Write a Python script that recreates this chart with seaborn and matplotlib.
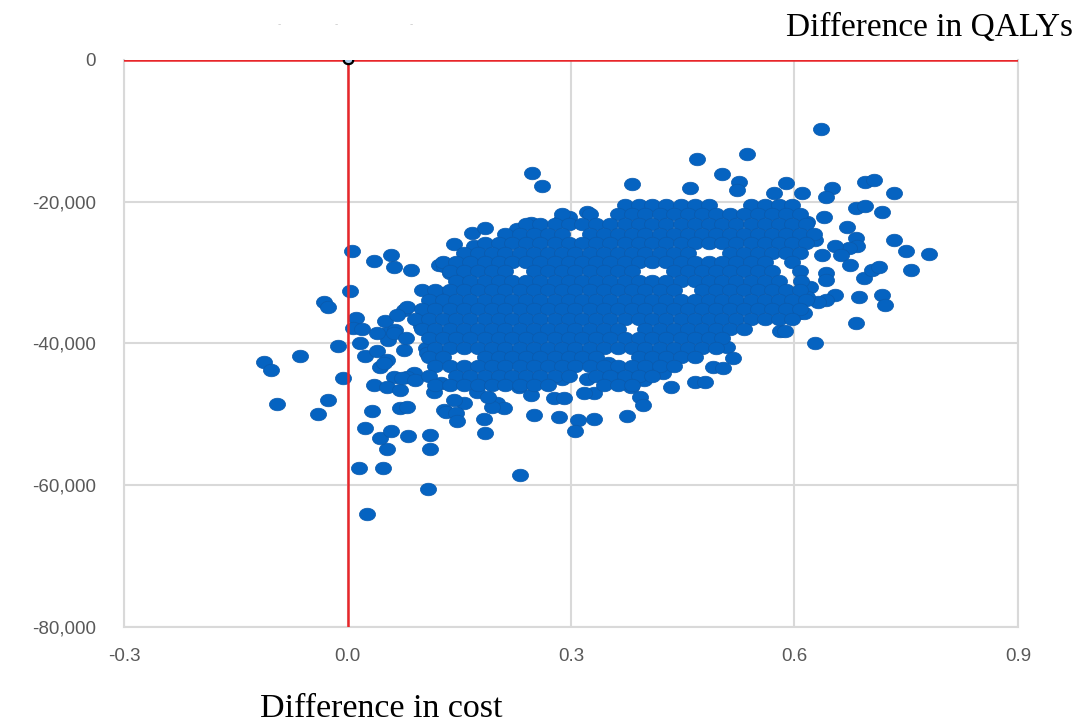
import pandas as pd
import matplotlib
matplotlib.use("Agg")
import matplotlib.pyplot as plt
import seaborn as sns
from matplotlib.markers import MarkerStyle
from matplotlib.transforms import Affine2D
from matplotlib.ticker import FuncFormatter

# x = difference in QALYs, y = difference in cost (in thousands)

# scattered points above the main cloud
upper_pts = [
    (0.635, -9.7), (0.536, -13.2), (0.469, -14.0), (0.503, -16.1), (0.525, -17.2),
    (0.523, -18.4), (0.460, -18.0), (0.382, -17.5), (0.247, -16.0), (0.261, -17.8),
    (0.322, -21.5), (0.297, -22.1), (0.286, -22.6), (0.227, -23.9), (0.246, -23.0),
    (0.255, -24.0), (0.572, -18.8), (0.588, -17.4), (0.610, -18.7), (0.651, -18.1),
    (0.642, -19.3), (0.695, -17.2), (0.707, -16.9), (0.733, -18.8), (0.682, -20.9),
    (0.695, -20.6), (0.718, -21.4), (0.639, -22.1), (0.617, -22.8), (0.671, -23.5),
]

# right-hand fringe
right_pts = [
    (0.733, -25.4), (0.682, -25.1), (0.684, -26.3), (0.673, -26.6), (0.655, -26.3),
    (0.662, -27.5), (0.637, -27.5), (0.628, -25.4), (0.675, -28.9), (0.642, -30.1),
    (0.642, -31.0), (0.693, -30.8), (0.704, -29.6), (0.713, -29.2), (0.750, -26.9),
    (0.781, -27.4), (0.757, -29.7), (0.686, -33.4), (0.718, -33.1), (0.722, -34.6),
    (0.655, -33.1), (0.642, -33.9), (0.632, -34.1), (0.621, -32.0), (0.617, -33.4),
    (0.606, -35.7), (0.613, -35.7), (0.682, -37.1), (0.628, -39.9), (0.581, -38.3),
    (0.587, -38.3), (0.510, -40.5), (0.518, -42.0), (0.491, -43.3),
]

# lower edge of the cloud
lower_pts = [
    (0.466, -45.4), (0.480, -45.4), (0.504, -43.5), (0.434, -46.1), (0.424, -44.2),
    (0.407, -43.7), (0.398, -45.1), (0.385, -44.4), (0.352, -44.4), (0.349, -42.8),
    (0.362, -44.2), (0.371, -45.6), (0.380, -46.1), (0.393, -47.5), (0.396, -48.7),
    (0.375, -50.2), (0.331, -50.7), (0.310, -50.8), (0.306, -52.4), (0.284, -50.4),
    (0.250, -50.1), (0.288, -45.0), (0.277, -47.7), (0.290, -47.7), (0.322, -45.0),
    (0.331, -47.0), (0.317, -47.0), (0.230, -46.1), (0.246, -47.2), (0.201, -48.4),
    (0.210, -49.1), (0.194, -48.9), (0.174, -46.8), (0.188, -47.5), (0.183, -50.7),
    (0.185, -52.6), (0.156, -48.4), (0.143, -48.0), (0.129, -49.4), (0.132, -49.6),
    (0.145, -49.8), (0.147, -51.0), (0.116, -46.8), (0.125, -45.6), (0.232, -58.6),
    (0.108, -60.6),
]

# left-hand fringe, around the zero line
left_pts = [
    (0.006, -27.0), (0.035, -28.3), (0.058, -27.5), (0.062, -29.2), (0.085, -29.6),
    (0.004, -32.6), (-0.032, -34.1), (-0.026, -34.9), (0.011, -36.4), (0.008, -37.8),
    (0.020, -38.0), (-0.013, -40.3), (0.017, -40.0), (-0.112, -42.6), (-0.103, -43.7),
    (-0.064, -41.8), (-0.006, -44.9), (-0.094, -48.6), (-0.026, -48.0), (-0.040, -49.9),
    (0.033, -49.5), (0.070, -49.1), (0.080, -48.9), (0.050, -36.9), (0.053, -38.5),
    (0.064, -38.1), (0.076, -35.3), (0.080, -34.9), (0.094, -36.7), (0.098, -37.6),
    (0.111, -32.9), (0.120, -34.3), (0.130, -32.9), (0.066, -36.0), (0.103, -37.9),
    (0.054, -39.5), (0.123, -28.9), (0.138, -30.1), (0.149, -31.0), (0.130, -29.1),
    (0.143, -25.9), (0.167, -24.4), (0.185, -23.7), (0.170, -26.3), (0.205, -26.8),
    (0.183, -28.2), (0.024, -41.8), (0.040, -41.1), (0.053, -42.3), (0.044, -43.3),
    (0.049, -42.8), (0.062, -44.7), (0.035, -45.8), (0.053, -46.1), (0.071, -46.5),
    (0.089, -44.2), (0.080, -44.7), (0.073, -44.9), (0.091, -45.1), (0.076, -40.9),
    (0.105, -40.7), (0.107, -41.4), (0.040, -38.5), (0.062, -38.5),
]

# low tail
tail_pts = [
    (0.026, -64.0), (0.016, -57.6), (0.047, -57.6), (0.111, -54.9), (0.111, -52.9),
    (0.053, -54.9), (0.044, -53.4), (0.058, -52.4), (0.081, -53.0), (0.024, -51.9),
]

# dense core, row by row: (cost in thousands, [QALY differences])
core_top = [
    (-20.5, [0.372, 0.391, 0.409, 0.428, 0.447, 0.466, 0.485, 0.541, 0.560, 0.579, 0.597]),
    (-21.8, [0.288, 0.325, 0.363, 0.382, 0.400, 0.419, 0.438, 0.457, 0.476, 0.494, 0.513,
             0.532, 0.551, 0.570, 0.588, 0.607]),
    (-23.1, [0.240, 0.259, 0.278, 0.297, 0.315, 0.334, 0.353, 0.372, 0.391, 0.409, 0.428,
             0.447, 0.466, 0.485, 0.503, 0.522, 0.541, 0.560, 0.579, 0.597, 0.616]),
    (-24.5, [0.212, 0.231, 0.250, 0.269, 0.288, 0.325, 0.344, 0.363, 0.382, 0.400, 0.419,
             0.438, 0.457, 0.476, 0.494, 0.513, 0.532, 0.551, 0.570, 0.588, 0.607, 0.626]),
    (-25.8, [0.184, 0.203, 0.221, 0.240, 0.259, 0.278, 0.297, 0.315, 0.334, 0.353, 0.372,
             0.391, 0.409, 0.428, 0.447, 0.466, 0.485, 0.503, 0.522, 0.541, 0.560, 0.579,
             0.597, 0.616]),
    (-27.2, [0.156, 0.175, 0.194, 0.212, 0.231, 0.250, 0.269, 0.288, 0.306, 0.325, 0.344,
             0.363, 0.382, 0.400, 0.419, 0.438, 0.457, 0.513, 0.532, 0.551, 0.570, 0.588,
             0.607]),
    (-28.5, [0.128, 0.146, 0.165, 0.184, 0.203, 0.221, 0.240, 0.259, 0.278, 0.297, 0.315,
             0.334, 0.353, 0.372, 0.391, 0.409, 0.428, 0.447, 0.466, 0.485, 0.503, 0.522,
             0.541, 0.560, 0.597]),
]
core_mid = [
    (-29.8, [0.137, 0.156, 0.175, 0.194, 0.212, 0.250, 0.269, 0.288, 0.306, 0.325, 0.344,
             0.363, 0.382, 0.438, 0.457, 0.476, 0.494, 0.513, 0.532, 0.551, 0.570, 0.607]),
    (-31.2, [0.146, 0.165, 0.184, 0.203, 0.221, 0.240, 0.259, 0.278, 0.297, 0.315, 0.334,
             0.353, 0.372, 0.391, 0.409, 0.428, 0.447, 0.466, 0.485, 0.503, 0.522, 0.541,
             0.560, 0.579, 0.609]),
    (-32.5, [0.100, 0.118, 0.137, 0.156, 0.175, 0.194, 0.212, 0.231, 0.250, 0.269, 0.288,
             0.306, 0.325, 0.344, 0.363, 0.382, 0.400, 0.419, 0.438, 0.476, 0.494, 0.513,
             0.532, 0.551, 0.570, 0.588, 0.607]),
    (-33.9, [0.109, 0.128, 0.146, 0.165, 0.184, 0.203, 0.221, 0.240, 0.259, 0.278, 0.297,
             0.315, 0.334, 0.353, 0.372, 0.391, 0.409, 0.428, 0.447, 0.466, 0.485, 0.503,
             0.522, 0.541, 0.560, 0.579, 0.597, 0.616]),
    (-35.2, [0.100, 0.118, 0.137, 0.156, 0.175, 0.194, 0.212, 0.231, 0.250, 0.269, 0.288,
             0.306, 0.325, 0.344, 0.363, 0.382, 0.400, 0.419, 0.438, 0.457, 0.476, 0.494,
             0.513, 0.532, 0.551, 0.570, 0.588, 0.607]),
    (-36.5, [0.090, 0.109, 0.128, 0.146, 0.165, 0.184, 0.203, 0.221, 0.240, 0.259, 0.278,
             0.297, 0.315, 0.334, 0.353, 0.372, 0.391, 0.409, 0.428, 0.447, 0.466, 0.485,
             0.503, 0.522, 0.541, 0.560, 0.579, 0.597]),
    (-37.9, [0.100, 0.118, 0.137, 0.156, 0.175, 0.194, 0.212, 0.231, 0.250, 0.269, 0.288,
             0.306, 0.325, 0.344, 0.363, 0.400, 0.419, 0.438, 0.457, 0.476, 0.494, 0.513,
             0.532]),
]
core_low = [
    (-39.2, [0.078, 0.109, 0.128, 0.146, 0.165, 0.184, 0.203, 0.221, 0.240, 0.259, 0.278,
             0.297, 0.315, 0.334, 0.353, 0.372, 0.391, 0.409, 0.428, 0.447, 0.466, 0.485,
             0.503]),
    (-40.6, [0.118, 0.137, 0.156, 0.175, 0.194, 0.212, 0.231, 0.250, 0.269, 0.288, 0.306,
             0.325, 0.344, 0.363, 0.382, 0.400, 0.419, 0.438, 0.457, 0.476, 0.494]),
    (-41.9, [0.109, 0.128, 0.184, 0.203, 0.221, 0.240, 0.259, 0.278, 0.297, 0.315, 0.334,
             0.391, 0.409, 0.428, 0.447, 0.466]),
    (-43.2, [0.118, 0.137, 0.156, 0.175, 0.194, 0.212, 0.231, 0.250, 0.269, 0.288, 0.306,
             0.325, 0.344, 0.363, 0.382, 0.400, 0.419, 0.438]),
    (-44.6, [0.109, 0.146, 0.165, 0.184, 0.203, 0.221, 0.240, 0.259, 0.278, 0.297, 0.334,
             0.353, 0.372, 0.391, 0.409]),
    (-45.9, [0.118, 0.137, 0.156, 0.175, 0.194, 0.212, 0.231, 0.250, 0.269, 0.344, 0.363,
             0.382]),
]

origin_q = [0.0]
origin_c = [0.0]

x_ticks = [-0.3, 0.0, 0.3, 0.6, 0.9]
y_ticks = [0, -20000, -40000, -60000, -80000]

rows = []
for group in (upper_pts, right_pts, lower_pts, left_pts, tail_pts):
    rows += [(q, c * 1000) for q, c in group]
for band in (core_top, core_mid, core_low):
    for c, qs in band:
        rows += [(q, c * 1000) for q in qs]
df = pd.DataFrame(rows, columns=["dq", "dc"])

sns.set_style("white")
plt.rcParams["font.family"] = ["Liberation Sans", "DejaVu Sans"]

fig = plt.figure(figsize=(10.84, 7.26), dpi=100)
ax = fig.add_axes([0.1144, 0.1364, 0.8247, 0.7810])

blue = "#0563c1"
oval = MarkerStyle("o", transform=Affine2D().scale(1.0, 0.78))
sns.scatterplot(data=df, x="dq", y="dc", ax=ax, marker=oval, s=135,
                color=blue, edgecolor="#0a5aad", linewidth=0.5, zorder=2, legend=False)

# red zero lines
ax.axhline(0, color="#e8262a", lw=1.8, zorder=4)
ax.axvline(0, color="#e8262a", lw=1.8, zorder=4)

# the single point sitting at the origin
ax.scatter(origin_q, origin_c, marker=oval, s=45, facecolor="#a9c9ea",
           edgecolor="black", linewidth=1.6, zorder=5)

ax.set_xlim(-0.3, 0.9)
ax.set_ylim(-80000, 0)
ax.set_xticks(x_ticks)
ax.set_yticks(y_ticks)
ax.xaxis.set_major_formatter(FuncFormatter(lambda v, p: f"{v:.1f}"))
ax.yaxis.set_major_formatter(FuncFormatter(lambda v, p: f"{v:,.0f}"))
ax.set_xlabel("")
ax.set_ylabel("")

ax.set_axisbelow(True)
ax.grid(True, color="#d9d9d9", lw=1.5)
for side in ["left", "bottom", "right"]:
    ax.spines[side].set_color("#d9d9d9")
    ax.spines[side].set_linewidth(1.5)
ax.spines["top"].set_visible(False)

ax.tick_params(axis="both", length=0, labelsize=13.5, labelcolor="#595959")
ax.tick_params(axis="x", pad=15)
ax.tick_params(axis="y", pad=20)

serif = ["Liberation Serif", "DejaVu Serif"]
fig.text(0.725, 0.9504, "Difference in QALYs", family=serif, fontsize=24,
         color="black", va="baseline")
fig.text(0.2399, 0.0128, "Difference in cost", family=serif, fontsize=24.5,
         color="black", va="baseline")

# faint marks above the plot
for fx in [0.258, 0.310, 0.379]:
    fig.text(fx, 0.967, "-", color="#c8c8c8", fontsize=7, ha="center", va="center")

fig.savefig("out.png", dpi=100)
